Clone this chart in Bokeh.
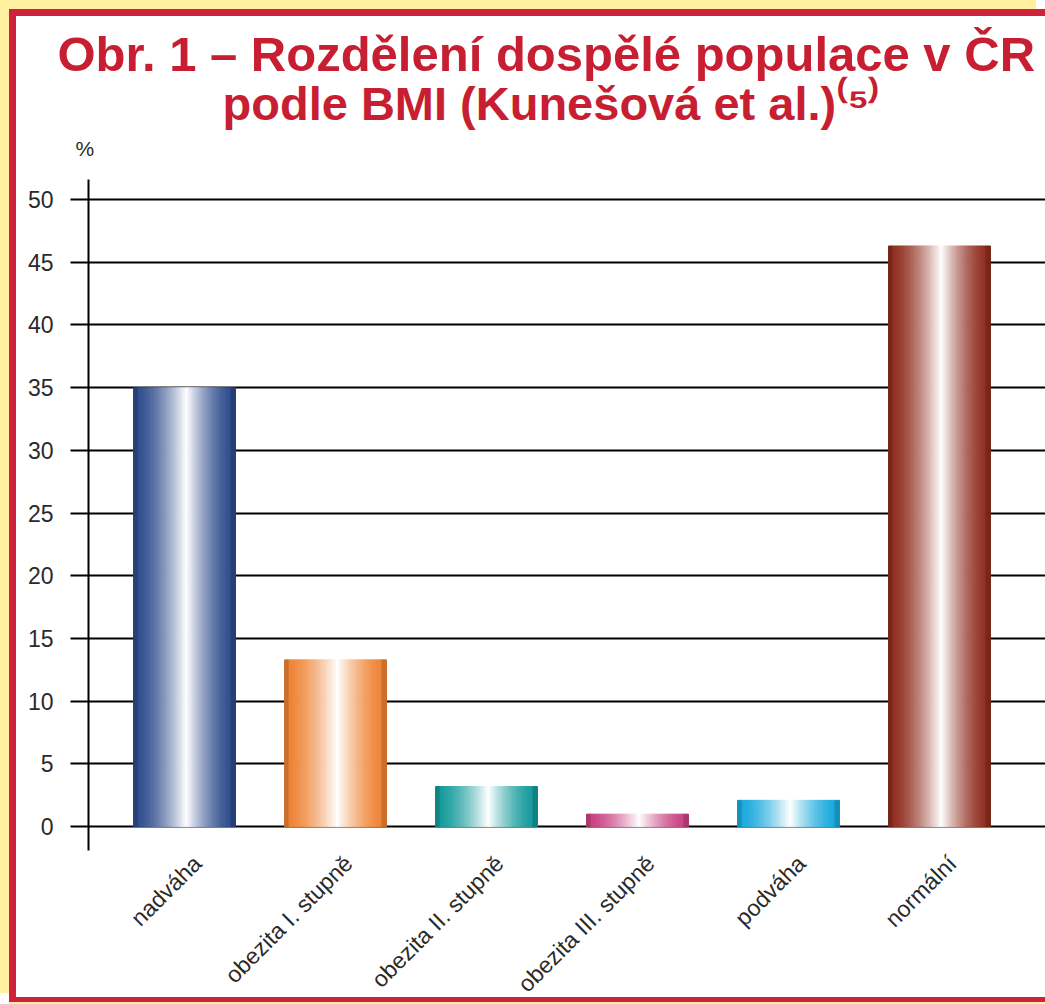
import numpy as np
from math import pi
from bokeh.plotting import figure
from bokeh.models import Range1d, FixedTicker, LinearAxis, Title
from bokeh.embed import file_html
from bokeh.resources import INLINE

# ---------------- data ----------------
categories = ["nadváha", "obezita I. stupně", "obezita II. stupně",
              "obezita III. stupně", "podváha", "normální"]
values = [35.0, 13.3, 3.2, 1.0, 2.1, 46.3]
bar_colors = ["#2c4a8c", "#ee8233", "#12999a", "#c8407f", "#17a8dc", "#8e2c1c"]
y_ticks = [0, 5, 10, 15, 20, 25, 30, 35, 40, 45, 50]
title_line1 = "Obr. 1 – Rozdělení dospělé populace v ČR"
title_line2 = "podle BMI (Kunešová et al.)⁽⁵⁾"
y_unit = "%"

RED = "#d0223a"
YELLOW = "#fff1a0"
TITLE_RED = "#c81e32"

# ---------------- figure ----------------
x0, x1 = -0.636, 5.702
p = figure(width=1036, height=993, x_range=Range1d(x0, x1), y_range=Range1d(-1.9, 51.6),
           output_backend="svg", toolbar_location=None, x_axis_location=None,
           title="")
p.margin = (9, 0, 0, 9)
p.min_border_left = 72
p.min_border_right = 7
p.min_border_top = 162
p.min_border_bottom = 159
p.border_fill_color = "white"
p.background_fill_color = "white"
p.outline_line_color = None
p.styles = {"border-left": f"7px solid {RED}", "border-top": f"7px solid {RED}",
            "border-bottom": f"5px solid {RED}",
            "box-shadow": f"-9px -9px 0 0 {YELLOW}, 0 2px 0 0 {YELLOW}"}

# y axis + grid
p.yaxis.ticker = FixedTicker(ticks=y_ticks)
p.yaxis.axis_line_color = "black"
p.yaxis.axis_line_width = 2
p.yaxis.major_tick_out = 18
p.yaxis.major_tick_in = 0
p.yaxis.major_tick_line_width = 2
p.yaxis.major_tick_line_color = "black"
p.yaxis.minor_tick_line_color = None
p.yaxis.major_label_text_font = "Liberation Sans"
p.yaxis.major_label_text_font_size = "23px"
p.yaxis.major_label_text_color = "#2a2a2a"
p.yaxis.major_label_standoff = 17
p.ygrid.ticker = FixedTicker(ticks=y_ticks)
p.ygrid.grid_line_color = "black"
p.ygrid.grid_line_width = 2
p.xgrid.grid_line_color = None

# x labels axis (slightly shifted range so rotated labels sit like the original)
shift = 0.085
p.extra_x_ranges = {"lbl": Range1d(x0 - shift, x1 - shift)}
xa = LinearAxis(x_range_name="lbl", ticker=FixedTicker(ticks=list(range(len(categories)))),
                major_label_overrides={i: c for i, c in enumerate(categories)},
                major_label_orientation=pi / 4)
xa.axis_line_color = None
xa.major_tick_line_color = None
xa.minor_tick_line_color = None
xa.major_label_text_font = "Liberation Sans"
xa.major_label_text_font_size = "23px"
xa.major_label_text_color = "#2a2a2a"
xa.major_label_standoff = 3
p.add_layout(xa, "below")

# ---------------- cylindrical bars (strips) ----------------
bar_w = 0.675
N = 45
xs, tops, widths, fills = [], [], [], []
def hex2rgb(h):
    h = h.lstrip("#")
    return np.array([int(h[i:i + 2], 16) for i in (0, 2, 4)], float)
for i, (v, c) in enumerate(zip(values, bar_colors)):
    base = hex2rgb(c)
    for k in range(N):
        t = (k + 0.5) / N
        peak = 0.52
        d = abs(t - peak) / (peak if t < peak else 1 - peak)
        d = min(d, 1.0)
        f = (1 - d) ** 1.6
        col = base * (1 - f) + 255 * f
        if d > 0.93:
            col = col * 0.85
        col = np.clip(col, 0, 255).astype(int)
        xs.append(i - bar_w / 2 + t * bar_w)
        tops.append(v)
        widths.append(bar_w / N)
        fills.append("#%02x%02x%02x" % tuple(col))
p.vbar(x=xs, top=tops, bottom=0, width=widths, fill_color=fills, line_color=fills,
       line_width=1)

# ---------------- titles ----------------
t_unit = Title(text=y_unit, align="left", offset=-13, text_font="Liberation Sans",
               text_font_size="21px", text_font_style="normal", text_color="#2a2a2a",
               standoff=39)
t2 = Title(text=title_line2, align="left", offset=134, text_font="Liberation Sans",
           text_font_size="47px", text_font_style="bold", text_color=TITLE_RED, standoff=-28)
t1 = Title(text=title_line1, align="left", offset=-31, text_font="Liberation Sans",
           text_font_size="49px", text_font_style="bold", text_color=TITLE_RED, standoff=16)
p.add_layout(t_unit, "above")
p.add_layout(t2, "above")
p.add_layout(t1, "above")

open("out.html", "w").write(file_html(p, INLINE))
